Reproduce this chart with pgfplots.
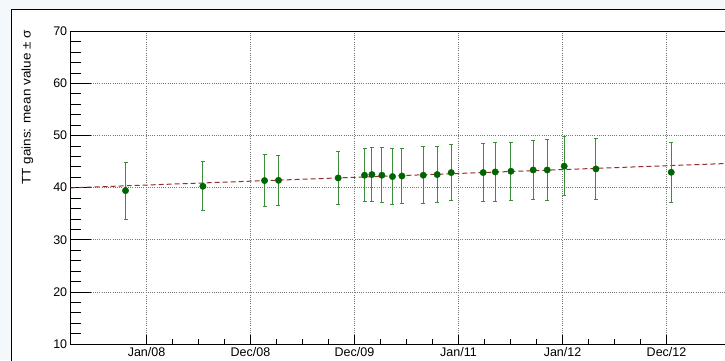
\documentclass[border=0pt]{standalone}
\usepackage{fontspec}
\setmainfont{Liberation Sans}
\usepackage{graphicx}
\usepackage{pgfplots}
\pgfplotsset{compat=1.18}
\usepackage{pgfplotstable}

\definecolor{canvasbg}{RGB}{244,248,251}
\definecolor{ptgreen}{RGB}{0,100,0}
\definecolor{bargreen}{RGB}{60,140,60}
\definecolor{fitred}{RGB}{150,45,45}
\definecolor{gridgray}{RGB}{120,120,120}

% time axis in units of major ticks (Jan/08 = 1, ..., Dec/12 = 6)
\pgfplotstableread{
x      y      err
0.798  39.42  5.48
1.542  40.25  4.68
2.135  41.35  4.97
2.269  41.40  4.81
2.843  41.85  5.06
3.096  42.37  5.07
3.167  42.50  5.10
3.263  42.37  5.23
3.365  42.12  5.33
3.456  42.23  5.33
3.661  42.37  5.44
3.795  42.50  5.38
3.930  42.88  5.33
4.237  42.88  5.55
4.353  43.00  5.60
4.504  43.13  5.58
4.718  43.38  5.67
4.853  43.38  5.81
5.016  44.10  5.67
5.321  43.58  5.90
6.045  42.94  5.77
}\gains

\begin{document}
\begin{tikzpicture}[x=1pt,y=1pt]
\begin{scope}
\clip (0,0) rectangle (725,360);
\fill[canvasbg] (0,0) rectangle (725,360);
\filldraw[fill=white, draw=black, line width=1.5pt] (11.7,-20) rectangle (780,350.7);
\begin{axis}[
  at={(68,30.5)}, anchor=south west, scale only axis,
  width=668.5pt, height=313pt,
  xmin=0.2712, xmax=6.699, ymin=10, ymax=70,
  axis line style={black, line width=0.8pt},
  tick align=inside, xtick pos=bottom, ytick pos=left,
  xtick={1,...,6},
  xticklabels={Jan/08,Dec/08,Dec/09,Jan/11,Jan/12,Dec/12},
  minor x tick num=3,
  ytick={10,20,...,70}, minor y tick num=4,
  xtick style={/pgfplots/major tick length=9.4pt,/pgfplots/minor tick length=4.7pt, black, line width=0.6pt},
  ytick style={/pgfplots/major tick length=20pt,/pgfplots/minor tick length=10pt, black, line width=0.6pt},
  grid=major,
  major grid style={gridgray, line width=0.6pt, dash pattern=on 1pt off 1.2pt},
  tick label style={font=\fontsize{12.5}{14}\selectfont},
  /pgf/number format/assume math mode=true,
]
\addplot[fitred, line width=1pt, dash pattern=on 5pt off 3pt]
  coordinates {(0.2712,39.95) (6.699,44.71)};
\addplot[only marks, mark=*, mark size=3.2pt,
  mark options={fill=ptgreen, draw=ptgreen},
  error bars/.cd, y dir=both, y explicit,
  error bar style={bargreen, line width=1pt},
  error mark options={rotate=90, mark size=2pt, bargreen, line width=1pt}]
  table[x=x, y=y, y error=err] {\gains};
\end{axis}
\node[rotate=90, anchor=base east, font=\fontsize{12.5}{14}\selectfont, inner sep=0pt]
  at (30.5,330) {\scalebox{1.08}[1]{TT gains: mean value ± σ}};
\end{scope}
\pgfresetboundingbox
\useasboundingbox (0,0) rectangle (725,360);
\end{tikzpicture}
\end{document}
